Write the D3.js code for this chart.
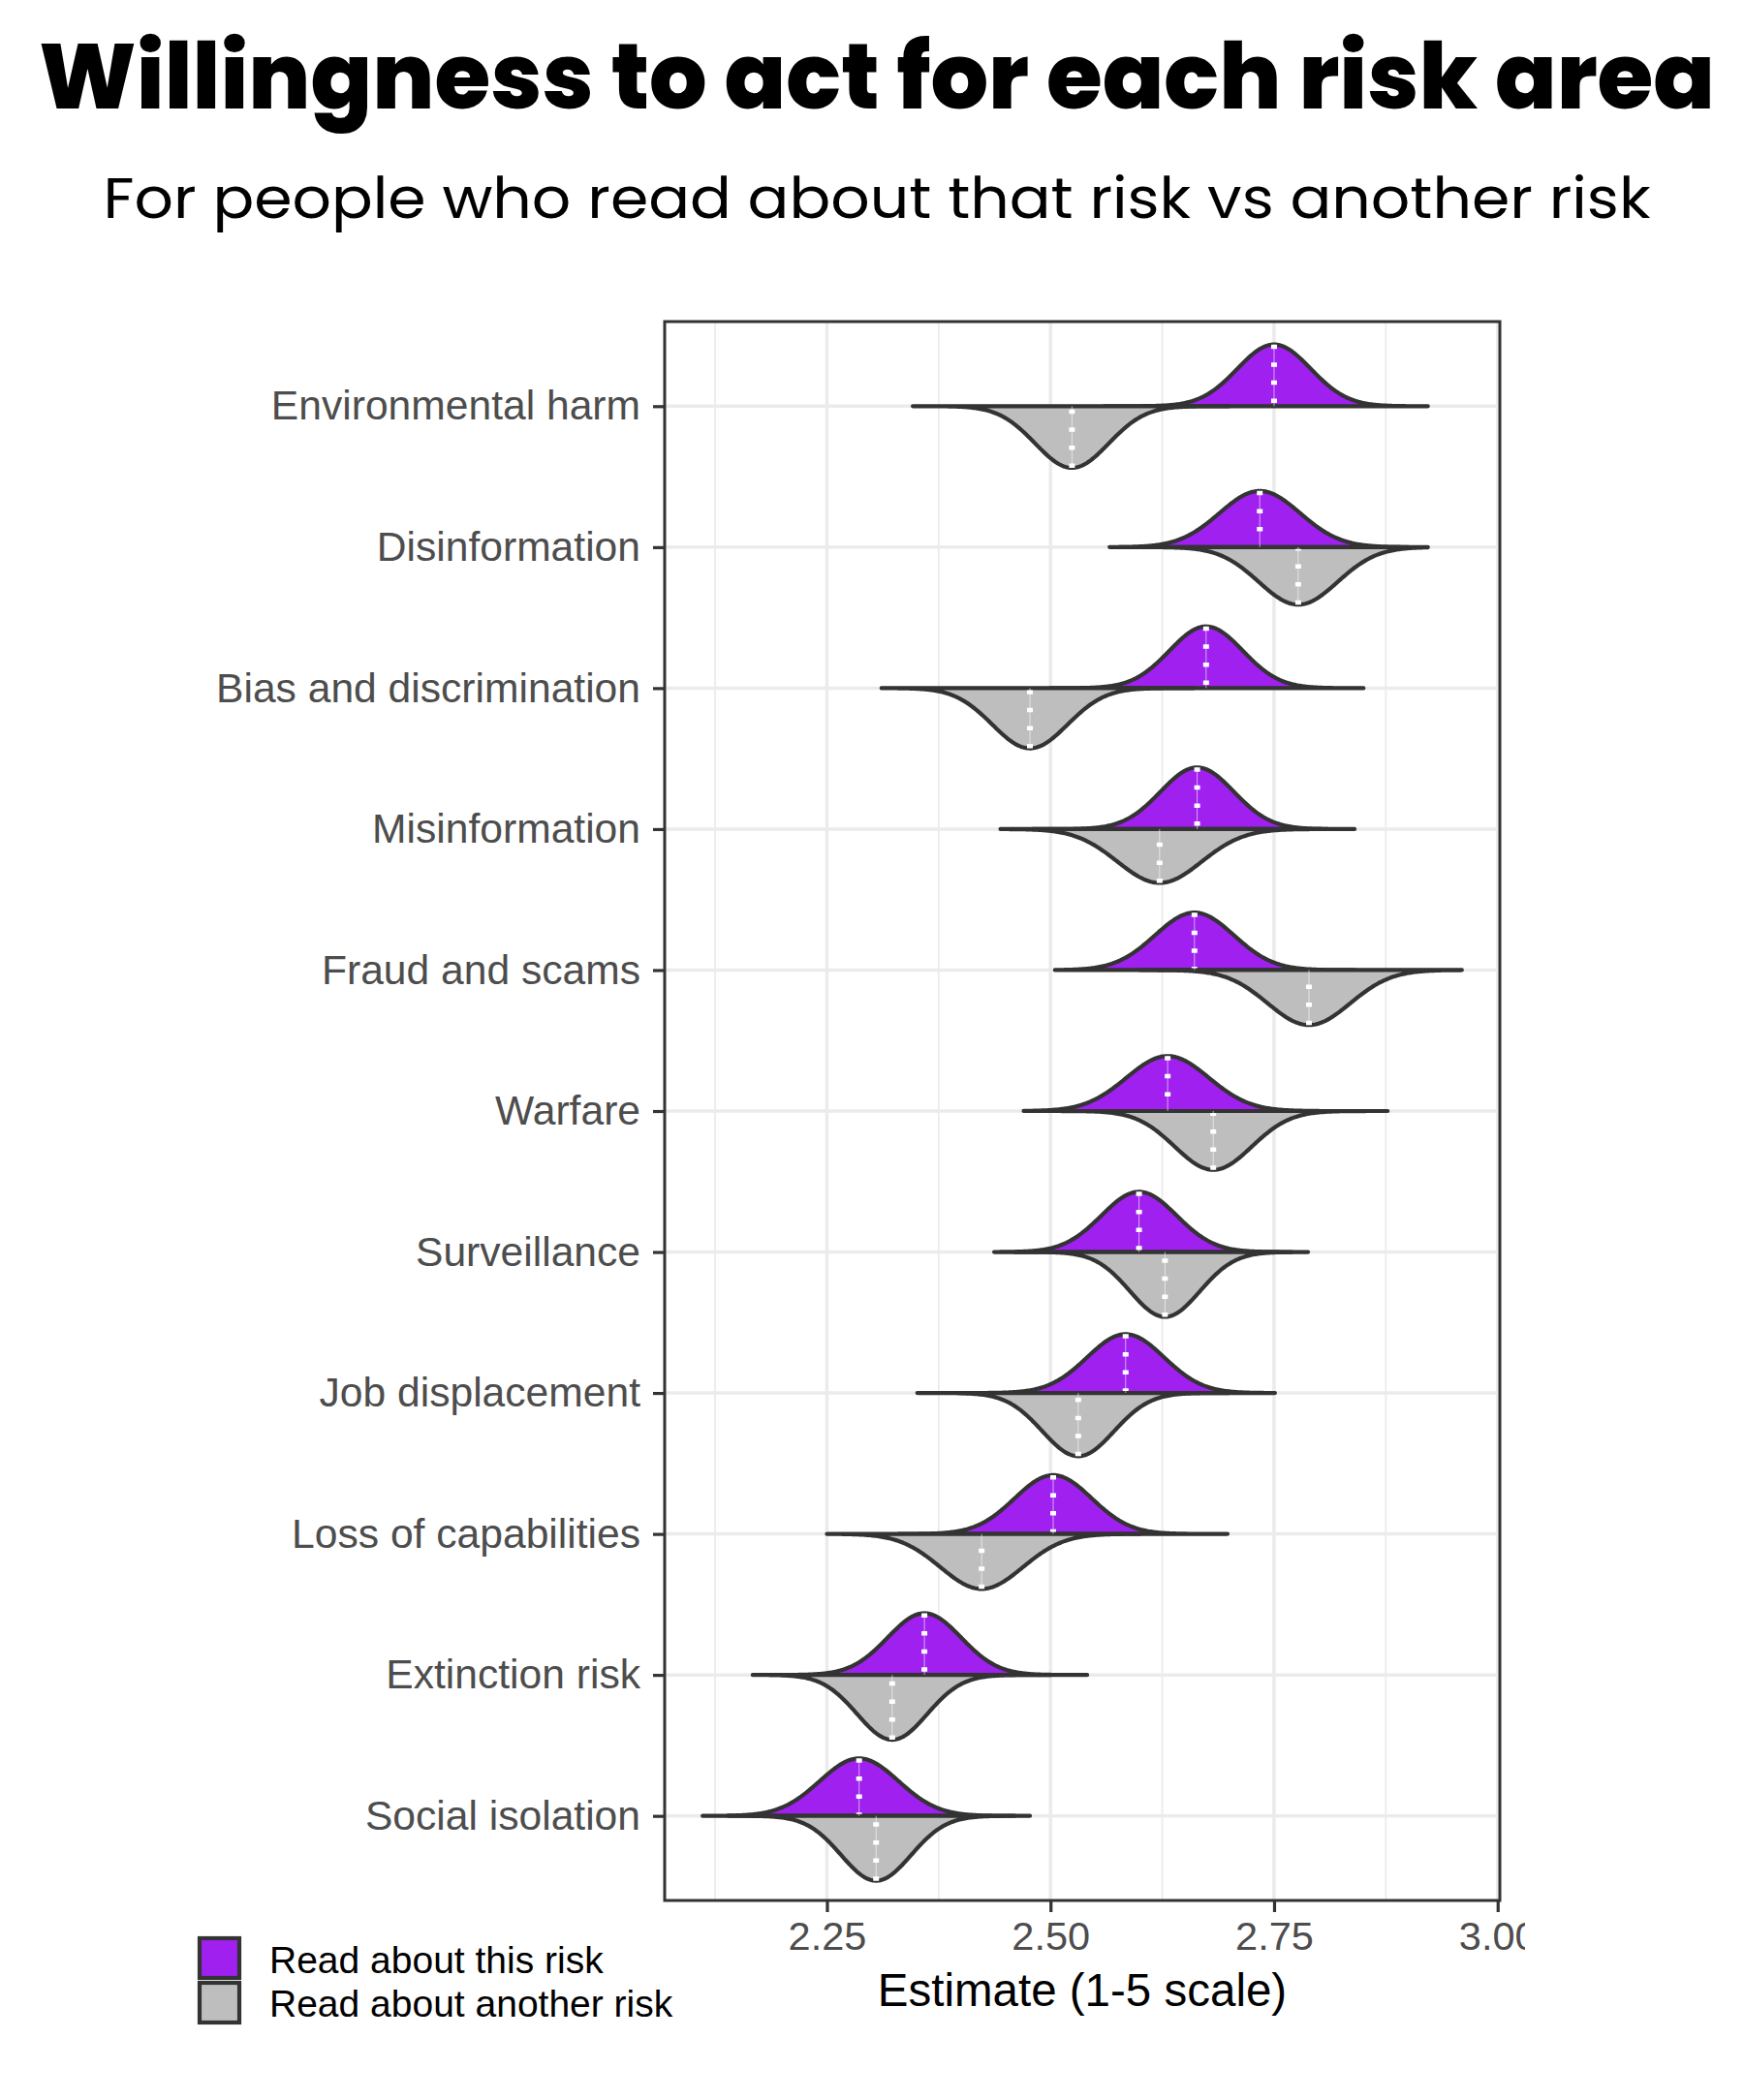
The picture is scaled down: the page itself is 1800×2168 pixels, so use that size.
<!DOCTYPE html>
<html>
<head>
<meta charset="utf-8">
<script src="https://cdn.jsdelivr.net/npm/d3@7"></script>
<style>
  body { margin: 0; background: #fff; }
  svg { display: block; }
</style>
</head>
<body>
<div id="chart"></div>
<script>
// risk areas, top to bottom
var categories = ["Environmental harm", "Disinformation", "Bias and discrimination",
  "Misinformation", "Fraud and scams", "Warfare", "Surveillance", "Job displacement",
  "Loss of capabilities", "Extinction risk", "Social isolation"];

// "Read about this risk" (purple, upper half)
var thisMedian = [2.750, 2.734, 2.674, 2.664, 2.661, 2.631, 2.599, 2.584, 2.503, 2.359, 2.286];
var thisSd     = [0.041, 0.045, 0.041, 0.041, 0.044, 0.046, 0.042, 0.043, 0.043, 0.041, 0.044];
var thisLo     = [2.560, 2.566, 2.500, 2.480, 2.505, 2.470, 2.437, 2.400, 2.330, 2.200, 2.111];
var thisHi     = [2.922, 2.900, 2.850, 2.840, 2.840, 2.800, 2.770, 2.751, 2.698, 2.541, 2.460];

// "Read about another risk" (grey, lower half)
var otherMedian = [2.524, 2.777, 2.477, 2.622, 2.789, 2.682, 2.628, 2.531, 2.423, 2.323, 2.305];
var otherSd     = [0.041, 0.044, 0.042, 0.047, 0.046, 0.043, 0.039, 0.040, 0.046, 0.039, 0.039];
var otherLo     = [2.346, 2.600, 2.311, 2.444, 2.600, 2.500, 2.460, 2.351, 2.250, 2.167, 2.140];
var otherHi     = [2.700, 2.922, 2.660, 2.810, 2.960, 2.877, 2.788, 2.700, 2.600, 2.500, 2.477];

var majorTicks = [2.25, 2.50, 2.75, 3.00];
var minorTicks = [2.125, 2.375, 2.625, 2.875];
var legendLabels = ["Read about this risk", "Read about another risk"];
var fills = ["#A020F0", "#BEBEBE"];

var width = 1800, height = 2168;
var panel = { left: 686, right: 1548, top: 332, bottom: 1962 };
var sans = "'Liberation Sans', Arial, Helvetica, sans-serif";

var svg = d3.select("#chart").append("svg")
  .attr("width", width)
  .attr("height", height)
  .style("background", "#fff");

// titles
svg.append("text")
  .attr("x", 905).attr("y", 112)
  .attr("text-anchor", "middle")
  .attr("font-family", "Poppins, Inter, 'Open Sans', sans-serif")
  .attr("font-weight", 800)
  .attr("font-size", 95)
  .attr("textLength", 1730)
  .attr("lengthAdjust", "spacingAndGlyphs")
  .text("Willingness to act for each risk area");

svg.append("text")
  .attr("x", 905).attr("y", 225)
  .attr("text-anchor", "middle")
  .attr("font-family", "Poppins, Inter, 'Open Sans', sans-serif")
  .attr("font-weight", 400)
  .attr("font-size", 59)
  .attr("textLength", 1597)
  .attr("lengthAdjust", "spacingAndGlyphs")
  .text("For people who read about that risk vs another risk");

// scales, ggplot style 5% expansion on the data range
var lo = d3.min(thisLo.concat(otherLo)), hi = d3.max(thisHi.concat(otherHi));
var span = hi - lo;
var x = d3.scaleLinear()
  .domain([lo - 0.05 * span, hi + 0.05 * span])
  .range([panel.left, panel.right]);

var y = d3.scalePoint()
  .domain(categories)
  .range([panel.top, panel.bottom])
  .padding(0.6);

// grid
var grid = svg.append("g");
grid.selectAll(".minor").data(minorTicks).join("line")
  .attr("x1", d => x(d)).attr("x2", d => x(d))
  .attr("y1", panel.top).attr("y2", panel.bottom)
  .attr("stroke", "#EBEBEB").attr("stroke-width", 1.8);
grid.selectAll(".major").data(majorTicks).join("line")
  .attr("x1", d => x(d)).attr("x2", d => x(d))
  .attr("y1", panel.top).attr("y2", panel.bottom)
  .attr("stroke", "#EBEBEB").attr("stroke-width", 3.5);
grid.selectAll(".hmajor").data(categories).join("line")
  .attr("x1", panel.left).attr("x2", panel.right)
  .attr("y1", d => y(d)).attr("y2", d => y(d))
  .attr("stroke", "#EBEBEB").attr("stroke-width", 3.5);

// split violins, area scaled like ggplot: peak width proportional to max density
var sdMin = d3.min(thisSd.concat(otherSd));
var maxHalf = 0.46 * y.step();

function dens(v, m, s) {
  var z = (v - m) / s;
  return (sdMin / s) * Math.exp(-0.5 * z * z);
}

var halves = [];
categories.forEach(function(c, i) {
  halves.push({ cat: c, side: -1, fill: fills[0], m: thisMedian[i], s: thisSd[i], lo: thisLo[i], hi: thisHi[i] });
  halves.push({ cat: c, side: 1, fill: fills[1], m: otherMedian[i], s: otherSd[i], lo: otherLo[i], hi: otherHi[i] });
});

function halfPath(d) {
  var y0 = y(d.cat);
  var pts = d3.range(0, 241).map(function(k) {
    var v = d.lo + (d.hi - d.lo) * k / 240;
    return [x(v), y0 + d.side * maxHalf * dens(v, d.m, d.s)];
  });
  pts.push([x(d.hi), y0]);
  pts.push([x(d.lo), y0]);
  return d3.line()(pts) + "Z";
}

var vg = svg.append("g");
vg.selectAll("path").data(halves).join("path")
  .attr("d", halfPath)
  .attr("fill", d => d.fill)
  .attr("stroke", "#333333")
  .attr("stroke-width", 4.2)
  .attr("stroke-linejoin", "round")
  .attr("stroke-linecap", "round");

// median lines
var mg = svg.append("g");
mg.selectAll(".thin").data(halves).join("line")
  .attr("x1", d => x(d.m)).attr("x2", d => x(d.m))
  .attr("y1", d => y(d.cat) + d.side * maxHalf * dens(d.m, d.m, d.s))
  .attr("y2", d => y(d.cat))
  .attr("stroke", "#fff").attr("stroke-width", 1).attr("stroke-opacity", 0.6);
mg.selectAll(".dash").data(halves).join("line")
  .attr("x1", d => x(d.m)).attr("x2", d => x(d.m))
  .attr("y1", d => y(d.cat) + d.side * maxHalf * dens(d.m, d.m, d.s))
  .attr("y2", d => y(d.cat) + d.side * 2)
  .attr("stroke", "#fff").attr("stroke-width", 6)
  .attr("stroke-dasharray", "4.5 14.1");

// panel border
svg.append("rect")
  .attr("x", panel.left).attr("y", panel.top)
  .attr("width", panel.right - panel.left).attr("height", panel.bottom - panel.top)
  .attr("fill", "none").attr("stroke", "#333333").attr("stroke-width", 3);

// axes
svg.append("clipPath").attr("id", "clipx")
  .append("rect").attr("x", 0).attr("y", 0).attr("width", 1574).attr("height", height);

var xAxis = svg.append("g")
  .attr("transform", `translate(0,${panel.bottom})`)
  .attr("clip-path", "url(#clipx)")
  .call(d3.axisBottom(x).tickValues(majorTicks).tickFormat(d3.format(".2f")).tickSize(12).tickPadding(10));
xAxis.select(".domain").remove();
xAxis.selectAll("line").attr("stroke", "#333333").attr("stroke-width", 3.2);
xAxis.selectAll("text")
  .attr("fill", "#4D4D4D")
  .attr("font-family", sans)
  .attr("font-size", 41.5);

var yAxis = svg.append("g")
  .attr("transform", `translate(${panel.left},0)`)
  .call(d3.axisLeft(y).tickSize(12).tickPadding(13));
yAxis.select(".domain").remove();
yAxis.selectAll("line").attr("stroke", "#333333").attr("stroke-width", 3.2);
yAxis.selectAll("text")
  .attr("fill", "#4D4D4D")
  .attr("font-family", sans)
  .attr("font-size", 42.6);

svg.append("text")
  .attr("x", (panel.left + panel.right) / 2).attr("y", 2071)
  .attr("text-anchor", "middle")
  .attr("font-family", sans)
  .attr("font-size", 47.5)
  .attr("fill", "#000")
  .text("Estimate (1-5 scale)");

// legend
var lg = svg.append("g").attr("transform", "translate(206,2001)");
lg.selectAll("rect").data(legendLabels).join("rect")
  .attr("x", 0).attr("y", (d, i) => i * 46)
  .attr("width", 41).attr("height", 41)
  .attr("fill", (d, i) => fills[i])
  .attr("stroke", "#333333").attr("stroke-width", 4.2);
lg.selectAll("text").data(legendLabels).join("text")
  .attr("x", 72).attr("y", (d, i) => 36 + i * 45)
  .attr("font-family", sans)
  .attr("font-size", 39)
  .attr("fill", "#000")
  .text(d => d);
</script>
</body>
</html>
